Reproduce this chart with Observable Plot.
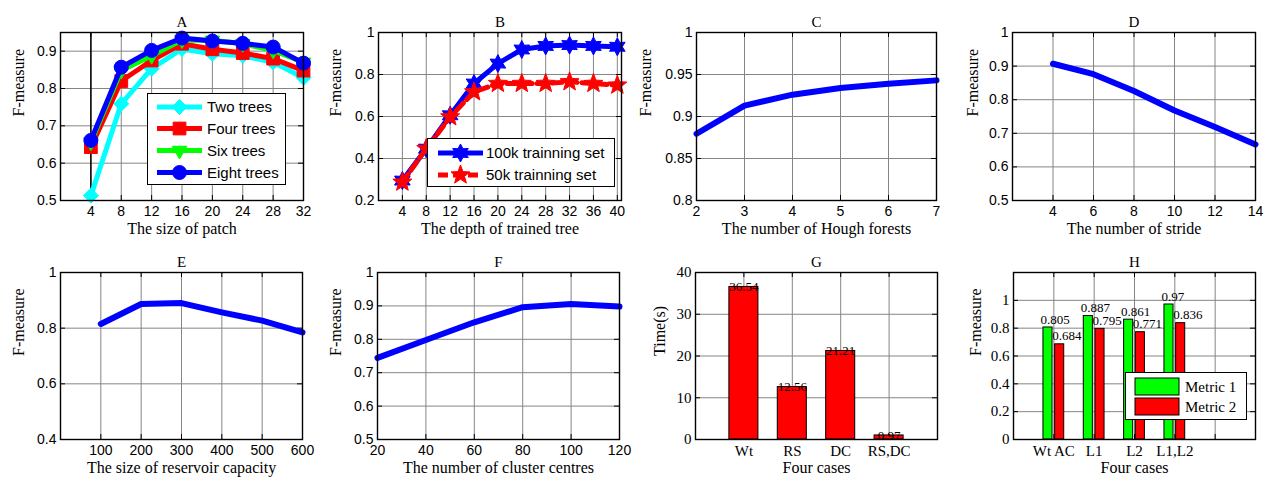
<!DOCTYPE html>
<html><head><meta charset="utf-8">
<script src="https://cdn.jsdelivr.net/npm/d3@7"></script>
<script src="https://cdn.jsdelivr.net/npm/@observablehq/plot@0.6"></script>
<style>
body{margin:0;background:#fff;}
#root{position:relative;width:1269px;height:482px;overflow:hidden;background:#fff;}
#root svg{position:absolute;}
</style></head><body><div id="root"></div>
<script>
// ---------------- data ----------------
const patchSize = [4, 8, 12, 16, 20, 24, 28, 32];
const twoTrees   = [0.513, 0.759, 0.853, 0.906, 0.893, 0.888, 0.870, 0.829];
const fourTrees  = [0.643, 0.820, 0.875, 0.920, 0.905, 0.895, 0.880, 0.848];
const sixTrees   = [0.656, 0.848, 0.888, 0.930, 0.929, 0.920, 0.902, 0.870];
const eightTrees = [0.661, 0.857, 0.902, 0.935, 0.927, 0.921, 0.911, 0.868];
const seriesA = ["Two trees", "Four trees", "Six trees", "Eight trees"];

const treeDepth = [4, 8, 12, 16, 20, 24, 28, 32, 36, 40];
const set100k = [0.295, 0.447, 0.606, 0.757, 0.852, 0.919, 0.936, 0.940, 0.936, 0.932];
const set50k  = [0.287, 0.447, 0.598, 0.717, 0.757, 0.757, 0.757, 0.765, 0.757, 0.749];
const seriesB = ["100k trainning set", "50k trainning set"];

const houghForests = [2, 3, 4, 5, 6, 7];
const fHough = [0.8795, 0.913, 0.926, 0.934, 0.939, 0.943];

const strideNum = [4, 6, 8, 10, 12, 14];
const fStride = [0.907, 0.876, 0.826, 0.768, 0.719, 0.667];

const reservoir = [100, 200, 300, 400, 500, 600];
const fReservoir = [0.815, 0.887, 0.890, 0.857, 0.827, 0.785];

const clusters = [20, 40, 60, 80, 100, 120];
const fClusters = [0.7445, 0.798, 0.851, 0.896, 0.906, 0.898];

const casesG = ["Wt", "RS", "DC", "RS,DC"];
const timeG = [36.54, 12.56, 21.21, 0.97];

const casesH = ["Wt AC", "L1", "L2", "L1,L2"];
const metric1 = [0.805, 0.887, 0.861, 0.970];
const metric2 = [0.684, 0.795, 0.771, 0.836];
const seriesH = ["Metric 1", "Metric 2"];

// ---------------- styles ----------------
const SANS = "Liberation Sans, Arial, sans-serif";
const SERIF = "Liberation Serif, Times New Roman, serif";
const GRID = "#858585";
const root = document.getElementById("root");

function starPath(ctx, n, R, ri) {
  for (let k = 0; k < 2 * n; k++) {
    const r = k % 2 ? ri : R;
    const a = -Math.PI / 2 + k * Math.PI / n;
    const px = r * Math.cos(a), py = r * Math.sin(a);
    k ? ctx.lineTo(px, py) : ctx.moveTo(px, py);
  }
  ctx.closePath();
}
const rad = s => Math.sqrt(s / Math.PI);
const symHex = {draw(ctx, s) { starPath(ctx, 6, rad(s), rad(s) * 0.55); }};
const symPent = {draw(ctx, s) { starPath(ctx, 5, rad(s), rad(s) * 0.42); }};
const symTriDown = {draw(ctx, s) { const R = rad(s); ctx.moveTo(0, R); ctx.lineTo(R * 0.866, -R * 0.5); ctx.lineTo(-R * 0.866, -R * 0.5); ctx.closePath(); }};
const symDiamond = {draw(ctx, s) { const R = rad(s); ctx.moveTo(0, -R); ctx.lineTo(R, 0); ctx.lineTo(0, R); ctx.lineTo(-R, 0); ctx.closePath(); }};
const symSquare = {draw(ctx, s) { const R = rad(s) * 0.85; ctx.rect(-R, -R, 2 * R, 2 * R); }};
const symCircle = {draw(ctx, s) { const R = rad(s); ctx.moveTo(R, 0); ctx.arc(0, 0, R, 0, 2 * Math.PI); }};

const num = d => String(+(+d).toFixed(4));
const inner = (v, dom) => v.filter(d => d > dom[0] + 1e-9 && d < dom[1] - 1e-9);

function panel(o) {
  const ml = 62, mr = 14, mt = 34, mb = 44;
  const W = o.right - o.left, H = o.bottom - o.top;
  const tf = o.tickFont || SANS, ts = o.tickFontSize || 14;
  const xg = o.xgrid || inner(o.xticks, o.xdomain);
  const yg = o.ygrid || inner(o.yticks, o.ydomain);
  const chart = Plot.plot({
    width: W + ml + mr, height: H + mt + mb,
    marginLeft: ml, marginRight: mr, marginTop: mt, marginBottom: mb,
    x: {domain: o.xdomain, label: null},
    y: {domain: o.ydomain, label: null},
    style: {background: "none", overflow: "visible"},
    marks: [
      Plot.frame({fill: "white", stroke: null}),
      Plot.gridX(xg, {stroke: GRID, strokeOpacity: 1, strokeWidth: 1}),
      Plot.gridY(yg, {stroke: GRID, strokeOpacity: 1, strokeWidth: 1}),
      Plot.ruleX(xg, {insetTop: H - 5, stroke: "black"}),
      Plot.ruleX(xg, {insetBottom: H - 5, stroke: "black"}),
      Plot.ruleY(yg, {insetLeft: W - 5, stroke: "black"}),
      Plot.ruleY(yg, {insetRight: W - 5, stroke: "black"}),
      ...o.marks,
      Plot.frame({stroke: "black", strokeWidth: 1.4}),
      Plot.axisX(o.xticks, {tickSize: 0, tickPadding: 6, tickFormat: o.xfmt || num, fontSize: ts, fontFamily: tf, fill: "black", label: null}),
      Plot.axisY(o.yticks, {tickSize: 0, tickPadding: 4, tickFormat: o.yfmt || num, fontSize: ts, fontFamily: tf, fill: "black", label: null}),
      Plot.text([o.title], {text: d => d, frameAnchor: "top", dy: -16, fontFamily: SERIF, fontSize: 15, fill: "black"}),
      Plot.text([o.xlabel], {text: d => d, frameAnchor: "bottom", dy: 33, fontFamily: SERIF, fontSize: 16, fill: "black"}),
      Plot.text([o.ylabel], {text: d => d, frameAnchor: "left", dx: -o.ylOff, rotate: -90, fontFamily: SERIF, fontSize: 16, fill: "black"})
    ]
  });
  chart.style.left = (o.left - ml) + "px";
  chart.style.top = (o.top - mt) + "px";
  root.appendChild(chart);
}

function lineSeries(xs, ys, color, width, sym, r, dash) {
  return [
    Plot.line(xs, {x: d => d, y: (d, i) => ys[i], stroke: color, strokeWidth: width, strokeDasharray: dash}),
    ...(sym ? [Plot.dot(xs, {x: d => d, y: (d, i) => ys[i], symbol: sym, r, fill: color, stroke: color, strokeWidth: 1})] : [])
  ];
}

// ---------------- A ----------------
panel({
  left: 60, right: 303, top: 32, bottom: 200,
  xdomain: [0, 32], xticks: patchSize,
  ydomain: [0.5, 0.95], yticks: [0.5, 0.6, 0.7, 0.8, 0.9],
  title: "A", xlabel: "The size of patch", ylabel: "F-measure", ylOff: 42,
  marks: [
    Plot.ruleX([patchSize[0]], {stroke: "black", strokeWidth: 1.5}),
    ...lineSeries(patchSize, twoTrees, "#00ffff", 5, symDiamond, 7.5),
    ...lineSeries(patchSize, fourTrees, "#ff0000", 5, symSquare, 7.5),
    ...lineSeries(patchSize, sixTrees, "#00ff00", 5, symTriDown, 8.5),
    ...lineSeries(patchSize, eightTrees, "#0000ff", 5, symCircle, 7)
  ]
});

// ---------------- B ----------------
panel({
  left: 378, right: 621, top: 32, bottom: 200,
  xdomain: [0, 40.7], xticks: treeDepth,
  ydomain: [0.2, 1], yticks: [0.2, 0.4, 0.6, 0.8, 1],
  title: "B", xlabel: "The depth of trained tree", ylabel: "F-measure", ylOff: 43,
  marks: [
    ...lineSeries(treeDepth, set100k, "#0000ff", 5, symHex, 9),
    ...lineSeries(treeDepth, set50k, "#ff0000", 5, symPent, 10, "10,5")
  ]
});

// ---------------- C ----------------
panel({
  left: 696, right: 936, top: 32, bottom: 200,
  xdomain: [2, 7], xticks: houghForests,
  ydomain: [0.8, 1], yticks: [0.8, 0.85, 0.9, 0.95, 1],
  title: "C", xlabel: "The number of Hough forests", ylabel: "F-measure", ylOff: 51,
  marks: lineSeries(houghForests, fHough, "#0000ff", 6)
});

// ---------------- D ----------------
panel({
  left: 1012, right: 1255, top: 32, bottom: 200,
  xdomain: [2, 14], xticks: [4, 6, 8, 10, 12, 14],
  ydomain: [0.5, 1], yticks: [0.5, 0.6, 0.7, 0.8, 0.9, 1],
  title: "D", xlabel: "The number of stride", ylabel: "F-measure", ylOff: 40,
  marks: lineSeries(strideNum, fStride, "#0000ff", 6)
});

// ---------------- E ----------------
panel({
  left: 60, right: 302, top: 272, bottom: 439,
  xdomain: [0, 600], xticks: reservoir,
  ydomain: [0.4, 1], yticks: [0.4, 0.6, 0.8, 1],
  title: "E", xlabel: "The size of reservoir capacity", ylabel: "F-measure", ylOff: 42,
  marks: lineSeries(reservoir, fReservoir, "#0000ff", 6)
});

// ---------------- F ----------------
panel({
  left: 377, right: 619, top: 272, bottom: 439,
  xdomain: [20, 120], xticks: clusters,
  ydomain: [0.5, 1], yticks: [0.5, 0.6, 0.7, 0.8, 0.9, 1],
  title: "F", xlabel: "The number of cluster centres", ylabel: "F-measure", ylOff: 42,
  marks: lineSeries(clusters, fClusters, "#0000ff", 6)
});

// ---------------- G ----------------
const barsG = casesG.map((c, i) => ({pos: i + 1, v: timeG[i]}));
panel({
  left: 695, right: 937, top: 272, bottom: 439,
  xdomain: [0, 5], xticks: [1, 2, 3, 4], xfmt: d => casesG[d - 1] ?? "",
  ydomain: [0, 40], yticks: [0, 10, 20, 30, 40],
  tickFont: SERIF, tickFontSize: 15,
  title: "G", xlabel: "Four cases", ylabel: "Time(s)", ylOff: 36,
  marks: [
    Plot.rect(barsG, {x1: d => d.pos - 0.3, x2: d => d.pos + 0.3, y1: 0, y2: "v", fill: "#ff0000", stroke: "black", strokeWidth: 1}),
    Plot.text(barsG, {x: "pos", y: "v", text: d => num(d.v), fontFamily: SERIF, fontSize: 13, fill: "black"})
  ]
});

// ---------------- H ----------------
const barsH = casesH.flatMap((c, i) => [
  {pos: i + 1, off: -0.145, v: metric1[i], color: "#00ff00"},
  {pos: i + 1, off: 0.145, v: metric2[i], color: "#ff0000"}
]);
panel({
  left: 1013, right: 1255, top: 272, bottom: 439,
  xdomain: [0, 6], xticks: [1, 2, 3, 4, 5], xfmt: d => casesH[d - 1] ?? "",
  ydomain: [0, 1.2], yticks: [0, 0.2, 0.4, 0.6, 0.8, 1], ygrid: [0.2, 0.4, 0.6, 0.8, 1],
  tickFont: SERIF, tickFontSize: 15,
  title: "H", xlabel: "Four cases", ylabel: "F-measure", ylOff: 38,
  marks: [
    Plot.rect(barsH, {x1: d => d.pos + d.off - 0.1125, x2: d => d.pos + d.off + 0.1125, y1: 0, y2: "v", fill: d => d.color, stroke: "black", strokeWidth: 1}),
    Plot.text(barsH, {x: d => d.pos + d.off - 0.1125, y: "v", text: d => num(d.v), textAnchor: "start", dx: -3, dy: -8, fontFamily: SERIF, fontSize: 13, fill: "black"})
  ]
});

// ---------------- legends ----------------
function legend(box, rows) {
  const svg = d3.create("svg").attr("width", box.w).attr("height", box.h)
    .style("left", box.x + "px").style("top", box.y + "px");
  svg.append("rect").attr("x", 0.5).attr("y", 0.5).attr("width", box.w - 1).attr("height", box.h - 1)
    .attr("fill", "white").attr("stroke", "black");
  rows.forEach(r => {
    const g = svg.append("g").attr("transform", `translate(0,${r.y})`);
    if (r.swatch) {
      g.append("rect").attr("x", r.x0).attr("y", -8.5).attr("width", r.x1 - r.x0).attr("height", 17)
        .attr("fill", r.color).attr("stroke", "black");
    } else {
      g.append("line").attr("x1", r.x0).attr("x2", r.x1).attr("stroke", r.color)
        .attr("stroke-width", r.width).attr("stroke-dasharray", r.dash || null);
      g.append("path").attr("transform", `translate(${(r.x0 + r.x1) / 2},0)`)
        .attr("d", d3.symbol(r.sym, Math.PI * r.r * r.r)()).attr("fill", r.color).attr("stroke", r.color);
    }
    g.append("text").attr("x", r.tx).attr("dy", "0.35em").attr("font-family", r.font)
      .attr("font-size", r.fs).attr("fill", "black").text(r.label);
  });
  root.appendChild(svg.node());
}

const colorsA = ["#00ffff", "#ff0000", "#00ff00", "#0000ff"];
const symsA = [symDiamond, symSquare, symTriDown, symCircle];
const rA = [7.5, 7.5, 8.5, 7];
legend({x: 147, y: 93, w: 139, h: 92}, seriesA.map((s, i) => ({
  y: [14, 35.5, 57.5, 79.5][i], x0: 10, x1: 55, tx: 60, color: colorsA[i], width: 5,
  sym: symsA[i], r: rA[i], label: s, font: SANS, fs: 15
})));

legend({x: 427, y: 138, w: 188, h: 49}, seriesB.map((s, i) => ({
  y: [15, 37][i], x0: 11, x1: 56, tx: 59, color: ["#0000ff", "#ff0000"][i], width: 5,
  dash: i ? "10,5" : null, sym: [symHex, symPent][i], r: [9, 10][i], label: s, font: SANS, fs: 15
})));

legend({x: 1125, y: 372, w: 122, h: 48}, seriesH.map((s, i) => ({
  y: [14.5, 34.5][i], x0: 10, x1: 54, tx: 60, color: ["#00ff00", "#ff0000"][i], swatch: true,
  label: s, font: SERIF, fs: 15
})));
</script></body></html>
